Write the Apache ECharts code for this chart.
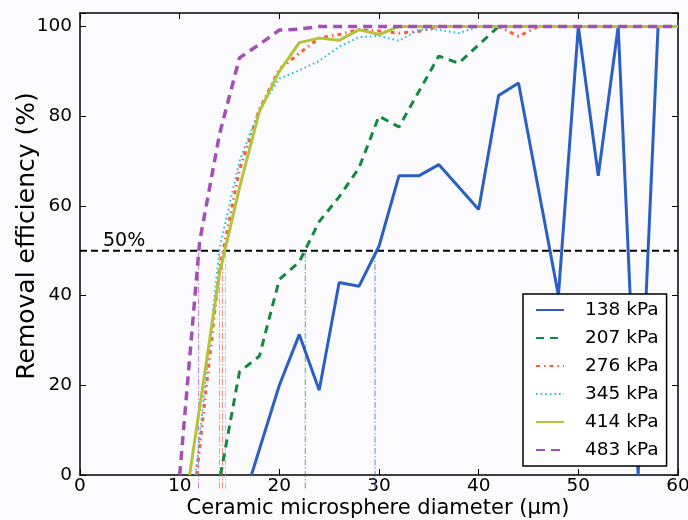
<!DOCTYPE html>
<html>
<head>
<meta charset="utf-8">
<script src="https://cdn.jsdelivr.net/npm/echarts@6/dist/echarts.min.js"></script>
<style>
html,body{margin:0;padding:0;background:#fbfbfe;}
#c{width:688px;height:520px;}
</style>
</head>
<body>
<div id="c"></div>
<script>
// ---- data ----
const seriesNames = ['138 kPa','207 kPa','276 kPa','345 kPa','414 kPa','483 kPa'];
const xTicks = [0,10,20,30,40,50,60];
const yTicks = [0,20,40,60,80,100];

const s138 = [[17.2,0],[20,20],[22,31.3],[24,18.9],[26,42.9],[28,42.1],[30,51],[32,66.7],[34,66.7],[36,69.2],[40,59.2],[42,84.6],[44,87.4],[48,40],[50,100],[52,66.7],[54,100],[56,0],[58,100],[60,100]];
const s207 = [[14.1,0],[16,23],[18,26.5],[20,43.6],[22,47.5],[24,56.5],[26,62],[28,68.5],[30,80],[32,77.6],[36,93.4],[38,91.8],[42,100],[44,100],[46,100],[48,100],[50,100],[52,100],[54,100],[56,100],[58,100],[60,100]];
const s276 = [[11.7,0],[14,46],[16,68],[18,81.5],[20,90.5],[22,94],[24,97.4],[26,98.2],[28,99.3],[30,99],[32,98.5],[34,98.9],[36,100],[38,100],[40,100],[42,100],[44,97.8],[46,100],[48,100],[50,100],[52,100],[54,100],[56,100],[58,100],[60,100]];
const s345 = [[11.6,0],[14,50.5],[16,70],[18,81.5],[20,88.4],[22,90.2],[24,92.3],[26,95.5],[28,97.6],[30,97.9],[32,96.8],[34,99.3],[36,99.3],[38,98.5],[40,100],[42,100],[44,100],[46,100],[48,100],[50,100],[52,100],[54,100],[56,100],[58,100],[60,100]];
const s414 = [[11,0],[14,45],[16,64],[18,81],[20,90],[22,96.4],[24,97.4],[26,96.9],[28,99.3],[30,98.2],[32,100],[34,100],[36,100],[38,100],[40,100],[42,100],[44,100],[46,100],[48,100],[50,100],[52,100],[54,100],[56,100],[58,100],[60,100]];
const s483 = [[10,0],[12,52],[14,76],[16,93],[18,96],[20,99.2],[22,99.4],[24,100],[26,100],[28,100],[30,100],[32,100],[34,100],[36,100],[38,100],[40,100],[42,100],[44,100],[46,100],[48,100],[50,100],[52,100],[54,100],[56,100],[58,100],[60,100]];
// diameter at which each curve crosses 50 %
const cross50 = [29.6, 22.6, 14.3, 14.0, 14.6, 11.9];
const threshold = 50;

// ---- styles ----
const colors = ['#2b5fc4','#14883e','#ff5b3a','#22bfe0','#b6c23c','#a44fb8'];
const styles = [
  {width:3, type:'solid'},
  {width:3, type:[8,6]},
  {width:3, type:[4,4,1.5,4]},
  {width:2, type:[1.6,3]},
  {width:3, type:'solid'},
  {width:3.5, type:[9,6]}
];
const allData = [s138,s207,s276,s345,s414,s483];

const series = [];
// vertical drop lines
cross50.forEach((x,i)=>{
  series.push({
    type:'line', name:'drop'+i, data:[[x,-3],[x,threshold]],
    symbol:'none', clip:false, silent:true, z:1,
    lineStyle:{color:colors[i], width:1, type:[6,2,1.5,2], opacity:0.7}
  });
});
// 50% line
series.push({
  type:'line', name:'thr', data:[[xTicks[0],threshold],[xTicks[xTicks.length-1],threshold]],
  symbol:'none', silent:true, z:1,
  lineStyle:{color:'#000', width:2, type:[7,4]}
});
allData.forEach((d,i)=>{
  series.push({
    type:'line', name:seriesNames[i], data:d, symbol:'none', showSymbol:false, z:2+i,
    lineStyle:{color:colors[i], width:styles[i].width, type:styles[i].type},
    itemStyle:{color:colors[i]}
  });
});

const axisCommonX = {type:'value', min:0, max:60, interval:10};
const axisCommonY = {type:'value', min:0, max:103, interval:20};
const chart = echarts.init(document.getElementById('c'));
chart.setOption({
  backgroundColor:'#fbfbfe',
  animation:false,
  textStyle:{fontFamily:'DejaVu Sans'},
  grid:{left:80, right:10, top:13, bottom:45, show:false, containLabel:false, outerBoundsMode:'none'},
  xAxis:[
    Object.assign({}, axisCommonX, {
      position:'bottom',
      axisLine:{onZero:false, lineStyle:{color:'#000', width:1.5}},
      axisTick:{inside:true, length:6, lineStyle:{color:'#000', width:1}},
      axisLabel:{fontSize:18.5, color:'#000', margin:2, fontFamily:'DejaVu Sans'},
      splitLine:{show:false}
    }),
    Object.assign({}, axisCommonX, {
      position:'top',
      axisLine:{onZero:false, lineStyle:{color:'#000', width:1.5}},
      axisTick:{inside:true, length:6, lineStyle:{color:'#000', width:1}},
      axisLabel:{show:false}, splitLine:{show:false}
    })
  ],
  yAxis:[
    Object.assign({}, axisCommonY, {
      position:'left',
      axisLine:{onZero:false, lineStyle:{color:'#000', width:1.5}},
      axisTick:{inside:true, length:6, lineStyle:{color:'#000', width:1}},
      axisLabel:{fontSize:18.5, color:'#000', margin:8, fontFamily:'DejaVu Sans',
        formatter:v=> yTicks.indexOf(v)>=0 ? String(v) : ''},
      splitLine:{show:false}
    }),
    Object.assign({}, axisCommonY, {
      position:'right',
      axisLine:{onZero:false, lineStyle:{color:'#000', width:1.5}},
      axisTick:{inside:true, length:6, lineStyle:{color:'#000', width:1}},
      axisLabel:{show:false}, splitLine:{show:false}
    })
  ],
  legend:{
    data:seriesNames, orient:'vertical', left:523, top:294,
    backgroundColor:'#fff', borderColor:'#000', borderWidth:1.5, borderRadius:0,
    padding:[6,8,6,12], itemWidth:28, itemHeight:14, itemGap:8,
    itemStyle:{opacity:0, borderWidth:0},
    textStyle:{fontSize:18.5, color:'#000', lineHeight:20, padding:[0,0,0,16], fontFamily:'DejaVu Sans'},
    selectedMode:false
  },
  graphic:[
    {type:'text', left:103, top:232, style:{text:'50%', fontSize:19, fill:'#000', fontFamily:'DejaVu Sans'}},
    {type:'text', x:27, y:236, rotation:Math.PI/2,
     style:{text:'Removal efficiency (%)', fontSize:25, fill:'#000', fontFamily:'DejaVu Sans', align:'center', verticalAlign:'middle'}},
    {type:'text', x:378, y:509,
     style:{text:'Ceramic microsphere diameter (μm)', fontSize:21, fill:'#000', fontFamily:'DejaVu Sans', align:'center', verticalAlign:'middle'}}
  ],
  series:series
});
</script>
</body>
</html>
